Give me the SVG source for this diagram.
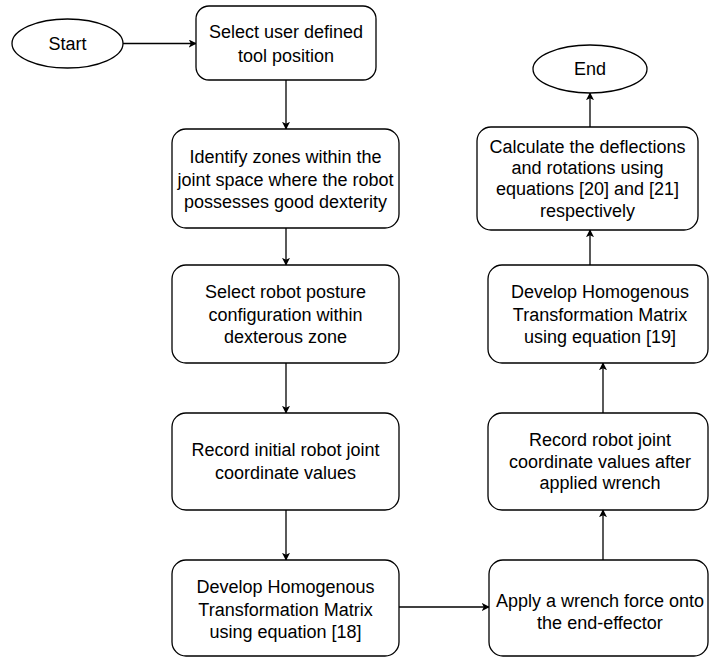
<svg xmlns="http://www.w3.org/2000/svg" width="709" height="660" viewBox="0 0 709 660">
<style>
.n{fill:#fff;stroke:#000;stroke-width:1.3}
.t{font-family:"Liberation Sans",Arial,sans-serif;font-size:18px;fill:#000;text-anchor:middle}
.c{fill:none;stroke:#000;stroke-width:1.3;marker-end:url(#ah)}
</style>
<defs>
<marker id="ah" viewBox="0 0 10 10" refX="9" refY="5" markerWidth="8" markerHeight="8" markerUnits="userSpaceOnUse" orient="auto">
<path d="M0,0 L10,5 L0,10 L2.5,5 Z" fill="#000"/>
</marker>
</defs>
<rect width="709" height="660" fill="#fff"/>
<g id="connectors">
<line class="c" x1="123" y1="43.5" x2="196" y2="43.5"/>
<line class="c" x1="286" y1="80" x2="286" y2="129"/>
<line class="c" x1="286" y1="228" x2="286" y2="265"/>
<line class="c" x1="286" y1="363" x2="286" y2="413"/>
<line class="c" x1="286" y1="510" x2="286" y2="560"/>
<line class="c" x1="399" y1="607" x2="489" y2="607"/>
<line class="c" x1="603" y1="560" x2="603" y2="510"/>
<line class="c" x1="603" y1="413" x2="603" y2="363"/>
<line class="c" x1="590" y1="265" x2="590" y2="230"/>
<line class="c" x1="590" y1="127" x2="590" y2="93"/>
</g>
<g id="start">
<ellipse class="n" cx="67.5" cy="43.5" rx="55.5" ry="24.5"/>
<text class="t" x="67.5" y="50">Start</text>
</g>
<g id="select-tool">
<rect class="n" x="196" y="6" width="180" height="74" rx="13"/>
<text class="t" x="286" y="38">Select user defined</text>
<text class="t" x="286" y="62">tool position</text>
</g>
<g id="identify-zones">
<rect class="n" x="172" y="129" width="227" height="99" rx="14"/>
<text class="t" x="285.5" y="163">Identify zones within the</text>
<text class="t" x="285.5" y="186">joint space where the robot</text>
<text class="t" x="285.5" y="208">possesses good dexterity</text>
</g>
<g id="select-posture">
<rect class="n" x="172" y="265" width="227" height="98" rx="14"/>
<text class="t" x="285.5" y="298">Select robot posture</text>
<text class="t" x="285.5" y="321">configuration within</text>
<text class="t" x="285.5" y="343">dexterous zone</text>
</g>
<g id="record-initial">
<rect class="n" x="172" y="413" width="227" height="97" rx="14"/>
<text class="t" x="285.5" y="456">Record initial robot joint</text>
<text class="t" x="285.5" y="479">coordinate values</text>
</g>
<g id="develop-18">
<rect class="n" x="172" y="560" width="227" height="96" rx="14"/>
<text class="t" x="285.5" y="593">Develop Homogenous</text>
<text class="t" x="285.5" y="616">Transformation Matrix</text>
<text class="t" x="285.5" y="638">using equation [18]</text>
</g>
<g id="apply-wrench">
<rect class="n" x="489" y="560" width="219" height="96" rx="14"/>
<text class="t" x="600" y="607">Apply a wrench force onto</text>
<text class="t" x="600" y="629">the end-effector</text>
</g>
<g id="record-after">
<rect class="n" x="488" y="413" width="220" height="97" rx="14"/>
<text class="t" x="600" y="446">Record robot joint</text>
<text class="t" x="600" y="468">coordinate values after</text>
<text class="t" x="600" y="489">applied wrench</text>
</g>
<g id="develop-19">
<rect class="n" x="488" y="265" width="220" height="98" rx="14"/>
<text class="t" x="600" y="298">Develop Homogenous</text>
<text class="t" x="600" y="321">Transformation Matrix</text>
<text class="t" x="600" y="343">using equation [19]</text>
</g>
<g id="calculate">
<rect class="n" x="477" y="127" width="221" height="103" rx="14"/>
<text class="t" x="587.5" y="153">Calculate the deflections</text>
<text class="t" x="587.5" y="174">and rotations using</text>
<text class="t" x="587.5" y="195">equations [20] and [21]</text>
<text class="t" x="587.5" y="217">respectively</text>
</g>
<g id="end">
<ellipse class="n" cx="590" cy="69" rx="57" ry="24"/>
<text class="t" x="590" y="75">End</text>
</g>
</svg>
